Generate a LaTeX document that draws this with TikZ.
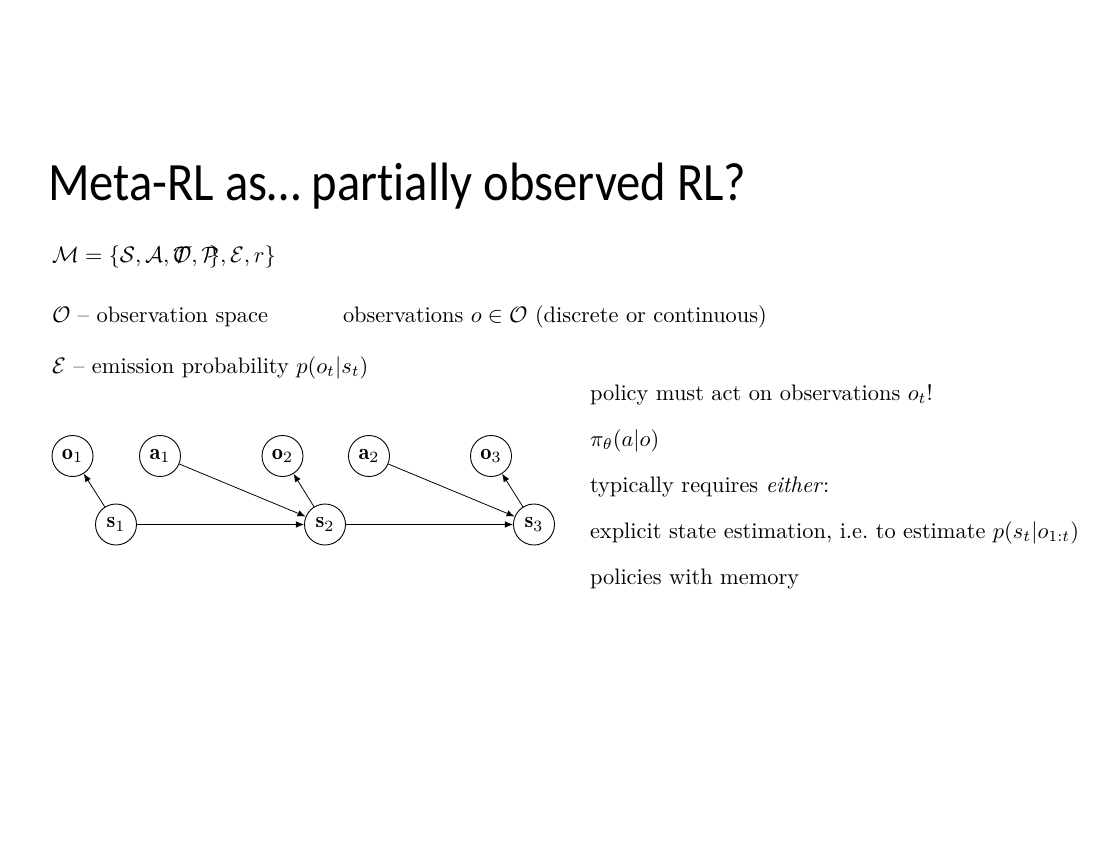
\documentclass[tikz,border=0pt]{standalone}
\usepackage{fontspec}
\newfontfamily\titlefont[Ligatures={NoCommon,NoDiscretionary}]{Carlito}
\usetikzlibrary{arrows.meta}
\begin{document}
\begin{tikzpicture}[x=0.4464pt,y=-0.4464pt,
  txt/.style={anchor=base west,inner sep=0pt,outer sep=0pt},
  var/.style={circle,draw,line width=0.4pt,minimum size=18.3pt,inner sep=0pt},
  edge/.style={-{Latex[length=3.6pt,width=2.9pt]},line width=0.35pt}]
\useasboundingbox (0,0) rectangle (1100,850);
\fill[white] (0,0) rectangle (1100,850);
\node[txt] (title) at (48,200) {\scalebox{0.9}[1]{\titlefont\fontsize{24.1}{28}\selectfont Meta-RL as… partially observed RL?}};
\node[txt] (mdp) at (52,262) {$\mathcal{M}=\{\mathcal{S},\mathcal{A},\rlap{$\mathcal{T}$}\mathcal{O},\mathcal{P}\mkern-8mu\},\mathcal{E},r\}$};
\node[txt] (obsspace) at (52,322) {$\mathcal{O}$ -- observation space};
\node[txt] (obs) at (343,322) {observations $o\in\mathcal{O}$ (discrete or continuous)};
\node[txt] (emis) at (52,373) {$\mathcal{E}$ -- emission probability $p(o_t|s_t)$};
\node[txt] (r1) at (590,400) {policy must act on observations $o_t$!};
\node[txt] (r2) at (590,446) {$\pi_\theta(a|o)$};
\node[txt] (r3) at (590,492) {typically requires \emph{either}:};
\node[txt] (r4) at (590,538) {explicit state estimation, i.e.\ to estimate $p(s_t|o_{1:t})$};
\node[txt] (r5) at (590,584) {policies with memory};
\node[var] (o1) at (72.5,456) {$\mathbf{o}_1$};
\node[var] (a1) at (160,456) {$\mathbf{a}_1$};
\node[var] (o2) at (282.5,456) {$\mathbf{o}_2$};
\node[var] (a2) at (369,456) {$\mathbf{a}_2$};
\node[var] (o3) at (491,456) {$\mathbf{o}_3$};
\node[var] (s1) at (116,524.5) {$\mathbf{s}_1$};
\node[var] (s2) at (325,524.5) {$\mathbf{s}_2$};
\node[var] (s3) at (534,524.5) {$\mathbf{s}_3$};
\draw[edge] (s1) -- (o1);
\draw[edge] (s2) -- (o2);
\draw[edge] (s3) -- (o3);
\draw[edge] (s1) -- (s2);
\draw[edge] (s2) -- (s3);
\draw[edge] (a1) -- (s2);
\draw[edge] (a2) -- (s3);
\end{tikzpicture}
\end{document}
